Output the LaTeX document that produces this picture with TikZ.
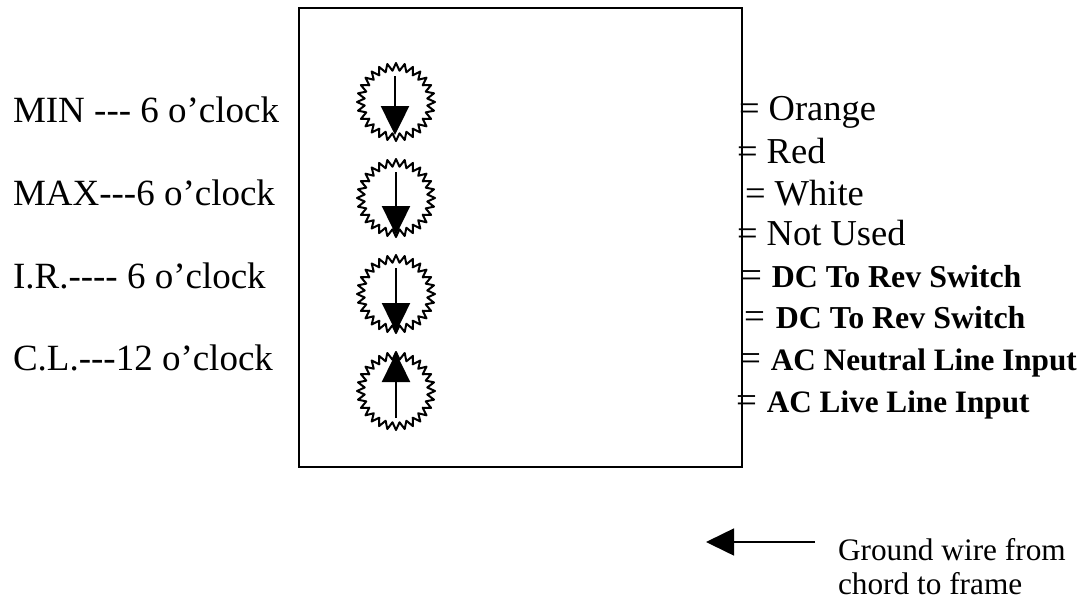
\documentclass[tikz,border=0pt]{standalone}
\usepackage{fontspec}
\setmainfont{Liberation Serif}
\usetikzlibrary{arrows.meta,shapes.geometric}
\newcommand{\lblfont}{\fontsize{37}{39}\selectfont}
\newcommand{\wirefont}{\fontsize{36.5}{39}\selectfont}
\newcommand{\eqsign}{{\fontsize{37}{39}\selectfont\mdseries =}}
\newcommand{\boldwire}{\fontsize{31.9}{34}\selectfont\bfseries}
\newcommand{\boldac}{\fontsize{31.2}{34}\selectfont\bfseries}
\tikzset{
  x=1pt,y=-1pt,
  label text/.style={anchor=base west,inner sep=0pt,outer sep=0pt,font=\lblfont},
  wire text/.style={anchor=base west,inner sep=0pt,outer sep=0pt,font=\wirefont},
  bold wire/.style={anchor=base west,inner sep=0pt,outer sep=0pt,font=\boldwire},
  bold ac/.style={anchor=base west,inner sep=0pt,outer sep=0pt,font=\boldac},
  note text/.style={anchor=base west,inner sep=0pt,outer sep=0pt,font=\fontsize{31.3}{33}\selectfont},
  burst/.style={star,star points=28,star point ratio=1.24,draw=black,line width=2pt,line join=round,minimum size=78pt,inner sep=0pt,outer sep=0pt},
  pointer/.style={line width=2.5pt,-{Triangle[width=28pt,length=29pt]}},
  frame/.style={draw=black,line width=1.5pt,inner sep=0pt,outer sep=0pt},
}
\begin{document}
\begin{tikzpicture}
\useasboundingbox (0,0) rectangle (1083,600);
\node[label text] (t1) at (13,122) {MIN -{}-{}- 6 o’clock};
\node[label text] (t2) at (13,205) {MAX-{}-{}-6 o’clock};
\node[label text] (t3) at (13,288) {I.R.-{}-{}-{}- 6 o’clock};
\node[label text] (t4) at (13,370) {C.L.-{}-{}-12 o’clock};
\node[wire text] (w1) at (739,120) {= Orange};
\node[wire text] (w2) at (737,163) {= Red};
\node[wire text] (w3) at (745,205) {= White};
\node[wire text] (w4) at (737,245) {= Not Used};
\node[bold wire] (w5) at (741,287) {\eqsign\hspace{10pt}DC To Rev Switch};
\node[bold wire] (w6) at (744,328) {\eqsign\hspace{11pt}DC To Rev Switch};
\node[bold ac] (w7) at (740,370) {\eqsign\hspace{10pt}AC Neutral Line Input};
\node[bold ac] (w8) at (736,412) {\eqsign\hspace{10pt}AC Live Line Input};
\node[frame,minimum width=443pt,minimum height=459pt,anchor=north west] (box) at (299,8) {};
\node[burst] (d1) at (396,102) {};
\node[burst] (d2) at (396,198) {};
\node[burst] (d3) at (396,294) {};
\node[burst] (d4) at (396,391) {};
\coordinate (a1) at (395,76); \coordinate (b1) at (395,135);
\coordinate (a2) at (396,172); \coordinate (b2) at (396,235);
\coordinate (a3) at (396,268); \coordinate (b3) at (396,332);
\coordinate (a4) at (396,418); \coordinate (b4) at (396,353);
\draw[pointer] (a1) -- (b1);
\draw[pointer] (a2) -- (b2);
\draw[pointer] (a3) -- (b3);
\draw[pointer] (a4) -- (b4);
\coordinate (g1) at (815,542); \coordinate (g2) at (706,542);
\draw[line width=1.6pt,-{Triangle[width=27pt,length=28pt]}] (g1) -- (g2);
\node[note text] (n1) at (838,560) {Ground wire from};
\node[note text] (n2) at (838,594) {chord to frame};
\end{tikzpicture}
\end{document}
